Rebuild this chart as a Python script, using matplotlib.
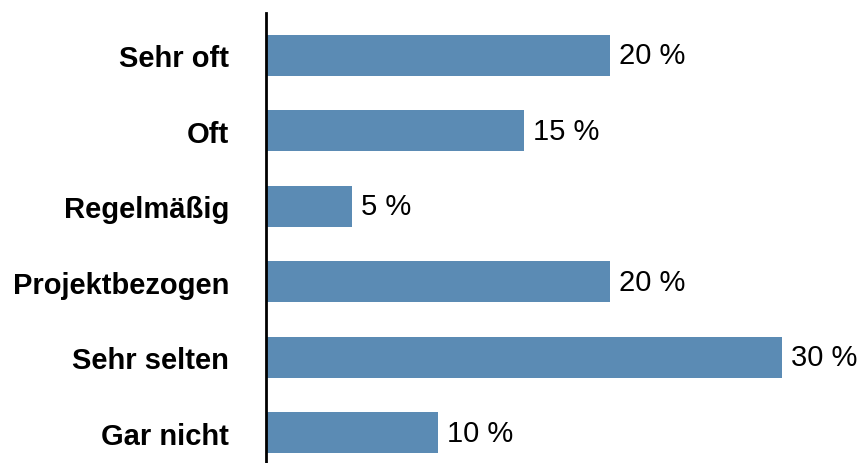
import matplotlib
matplotlib.use("Agg")
import matplotlib.pyplot as plt

categories = ["Sehr oft", "Oft", "Regelmäßig", "Projektbezogen", "Sehr selten", "Gar nicht"]
shares = [20, 15, 5, 20, 30, 10]
value_labels = ["20 %", "15 %", "5 %", "20 %", "30 %", "10 %"]

W, H = 858, 464
fig = plt.figure(figsize=(W / 100, H / 100), dpi=100)
plt.rcParams["font.family"] = ["Liberation Sans", "DejaVu Sans"]

# axes placed in pixel terms: left edge at the category axis line
left_px, right_px = 266, 858
top_px, bottom_px = 14, 464
ax = fig.add_axes([left_px / W, 1 - bottom_px / H, (right_px - left_px) / W, (bottom_px - top_px) / H])

n = len(categories)
ypos = list(range(n))
ax.barh(ypos, shares, height=0.54, color="#5B8BB4", edgecolor="none")

# 17.2 px per percentage point
ax.set_xlim(0, (right_px - left_px) / 17.2)
ax.set_ylim(n - 1 + 0.40, -0.56)

for y, v, lab in zip(ypos, shares, value_labels):
    ax.text(v + 0.55, y, lab, va="center", ha="left", fontsize=21, color="#000000")

ax.set_yticks(ypos)
ax.set_yticklabels(categories, fontsize=21, fontweight="bold")
ax.tick_params(axis="y", length=0, pad=26.5)
ax.set_xticks([])
for s in ["top", "right", "bottom"]:
    ax.spines[s].set_visible(False)
ax.spines["left"].set_linewidth(2)
ax.spines["left"].set_color("#000000")

fig.savefig("out.png", dpi=100)
